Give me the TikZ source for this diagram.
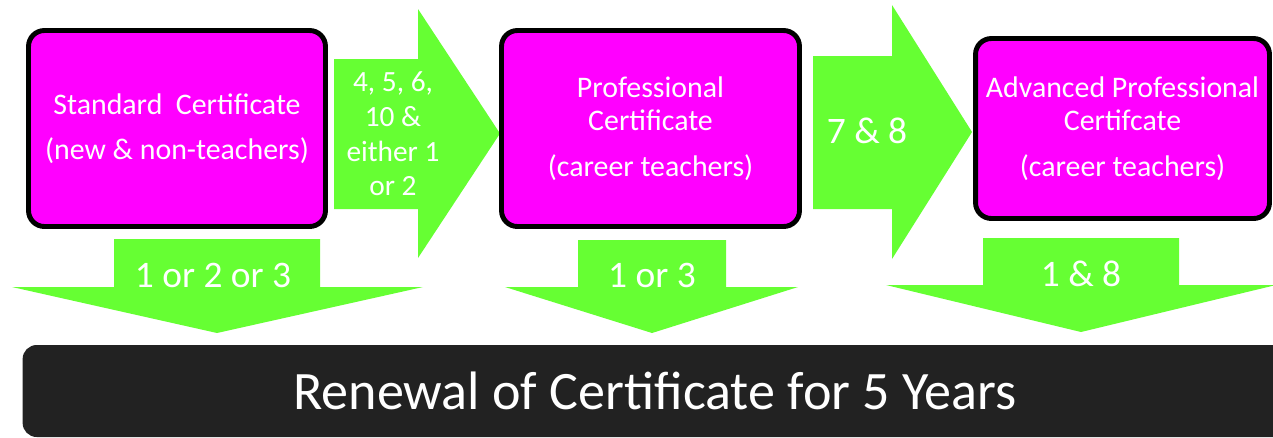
\documentclass[tikz,border=0pt]{standalone}
\usepackage{fontspec}
\setmainfont{Carlito}
\usetikzlibrary{positioning,calc}
\definecolor{certpink}{HTML}{FF00FF}
\definecolor{stepgreen}{HTML}{66FF33}
\definecolor{barblack}{HTML}{222222}

\begin{document}
\begin{tikzpicture}[
    x=0.02cm, y=-0.02cm,
    cert/.style={rectangle, rounded corners=9pt, draw=black, line width=2.8pt, fill=certpink, text=white, align=center, minimum height=3.92cm, font=\fontsize{17}{19.3}\selectfont},
    flow/.style={fill=stepgreen},
    cond/.style={text=white, align=center, inner sep=0pt, font=\fontsize{16.7}{19.8}\selectfont},
    bigcond/.style={text=white, anchor=base, inner sep=0pt, font=\fontsize{21.3}{25}\selectfont},
    renew/.style={rectangle, rounded corners=8pt, fill=barblack, text=white, minimum width=25.3cm, minimum height=1.84cm, font=\fontsize{30.8}{36}\selectfont}
]
    \clip (0,0) rectangle (1273,437);

    % block arrows between the certificates
    \fill[flow] (334,59) -- (418,59) -- (418,9) -- (500,133.5) -- (418,258) -- (418,209) -- (334,209) -- cycle;
    \fill[flow] (813,56) -- (892,56) -- (892,5) -- (972,132) -- (892,259) -- (892,209) -- (813,209) -- cycle;

    % block arrows down to the renewal bar
    \fill[flow] (114,239) -- (320,239) -- (320,287) -- (423,287) -- (217,333) -- (12,287) -- (114,287) -- cycle;
    \fill[flow] (578,240) -- (726,240) -- (726,287) -- (798,287) -- (652,333) -- (505,287) -- (578,287) -- cycle;
    \fill[flow] (983,238) -- (1179,238) -- (1179,285) -- (1276,285) -- (1081,332) -- (886,285) -- (983,285) -- cycle;

    \node[cert, minimum width=5.94cm] (standard) at (177,128.5) {Standard\ \ Certificate\\[6.2pt](new \& non-teachers)};
    \node[cert, minimum width=5.96cm] (professional) at (650.5,128.5) {Professional\\Certificate\\[6.7pt](career teachers)};
    \node[cert, minimum width=5.88cm, minimum height=3.6cm] (advanced) at (1122.5,128.5) {Advanced Professional\\Certifcate\\[6.7pt](career teachers)};

    \node[cond] (toprof) at (393,134) {4, 5, 6,\\10 \&\\either 1\\or 2};
    \node[bigcond] (toadv) at (867,143) {7 \& 8};
    \node[bigcond] (renstd) at (213,287) {1 or 2 or 3};
    \node[bigcond] (renprof) at (652,287) {1 or 3};
    \node[bigcond] (renadv) at (1081,286) {1 \& 8};

    \node[renew] (renewal) at (655,391) {Renewal of Certificate for 5 Years};
\end{tikzpicture}
\end{document}
